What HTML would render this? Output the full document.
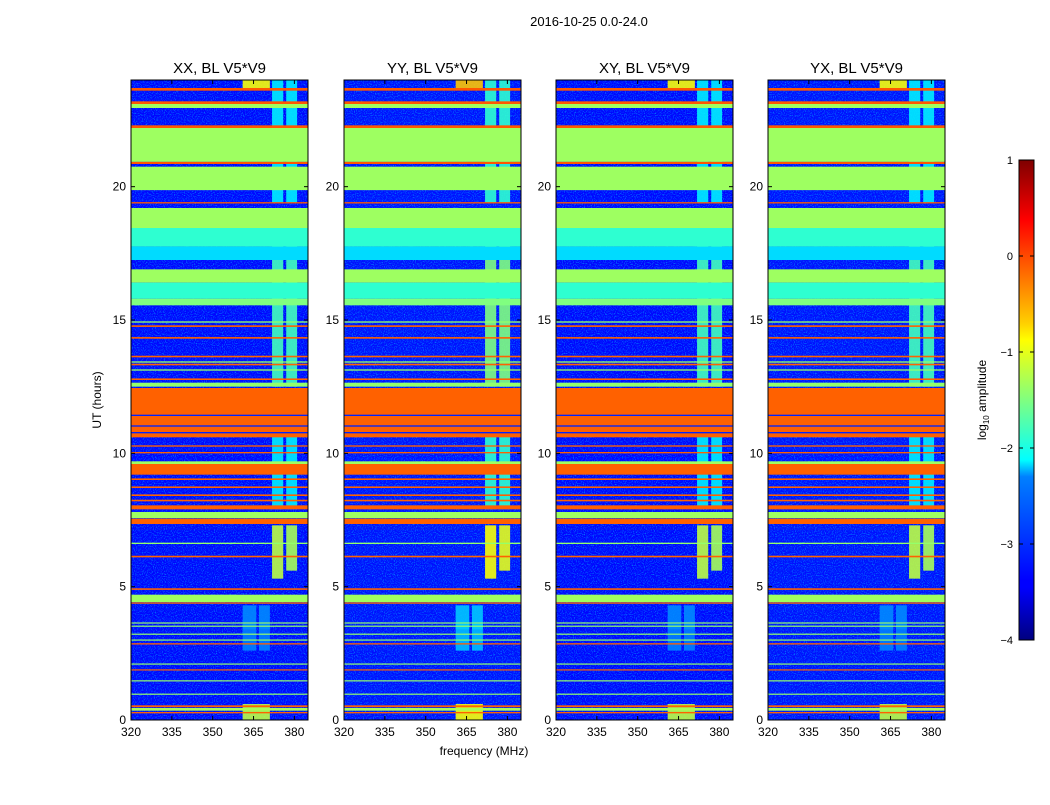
<!DOCTYPE html>
<html><head><meta charset="utf-8"><style>
body{margin:0;background:#fff;font-family:"Liberation Sans",sans-serif;}
svg text{font-family:"Liberation Sans",sans-serif;}
</style></head><body>
<svg id="fig" width="1050" height="800" viewBox="0 0 1050 800" xmlns="http://www.w3.org/2000/svg">
<defs>
<linearGradient id="cbgrad" x1="0" y1="1" x2="0" y2="0">
<stop offset="0" stop-color="#00007f"/><stop offset="0.11" stop-color="#0000ff"/><stop offset="0.125" stop-color="#0000ff"/><stop offset="0.34" stop-color="#0080ff"/><stop offset="0.375" stop-color="#00ffff"/><stop offset="0.5" stop-color="#80ff80"/><stop offset="0.625" stop-color="#ffff00"/><stop offset="0.66" stop-color="#ffd000"/><stop offset="0.875" stop-color="#ff0000"/><stop offset="1" stop-color="#7f0000"/>
</linearGradient>
<filter id="noise" x="0" y="0" width="100%" height="100%">
<feTurbulence type="fractalNoise" baseFrequency="0.9" numOctaves="1" seed="3" result="n"/>
<feColorMatrix in="n" type="matrix" values="0 0 0 0 0  0 0 0 0 0.45  0 0 0 0 1  0 0 0 2.2 -1.05"/>
</filter>
</defs>
<text x="589" y="26" font-size="13" text-anchor="middle">2016-10-25 0.0-24.0</text>
<text x="484" y="755" font-size="12" text-anchor="middle">frequency (MHz)</text>
<text x="101" y="400" font-size="12" text-anchor="middle" transform="rotate(-90 101 400)">UT (hours)</text>
<g id="panels"></g>
<g>
<rect x="1019" y="160" width="15" height="480" fill="url(#cbgrad)" stroke="#000" stroke-width="1"/>
<g id="cbticks"></g>
<text x="986" y="400" font-size="12" text-anchor="middle" transform="rotate(-90 986 400)">log<tspan font-size="8" dy="3">10</tspan><tspan dy="-3"> amplitude</tspan></text>
</g>
</svg>
<script>
// ---- data ----
const panelTitles = ["XX, BL V5*V9","YY, BL V5*V9","XY, BL V5*V9","YX, BL V5*V9"];
const xTicks = [320,335,350,365,380];
const yTicks = [0,5,10,15,20];
const cbTicks = [1,0,-1,-2,-3,-4];
const baseLevel = [-3.35,-3.3,-3.35,-3.3];
// horizontal bands (hours, log10 amplitude)
const bandStart = [23.6,23.1,22.95,22.2,20.93,20.85,19.87,19.37,18.45,17.75,17.25,16.4,15.8,15.55,14.74,14.9,14.3,13.6,13.4,13.3,13.1,12.75,12.5,12.0,10.6,11.4,11.0,10.75,10.0,10.25,9.6,9.2,9.0,8.7,8.4,8.2,7.9,7.57,7.35,6.6,6.1,4.88,4.42,4.36,3.62,3.50,3.2,2.98,2.83,2.08,1.86,1.45,0.95,0.48,0.35,0.25];
const bandEnd   = [23.7,23.2,23.1,22.3,22.2,20.93,20.75,19.42,19.2,18.45,17.75,16.9,16.4,15.8,14.8,14.95,14.36,13.66,13.45,13.36,13.15,12.81,12.65,12.45,12.0,11.45,11.05,10.8,10.05,10.3,9.7,9.6,9.06,8.76,8.46,8.26,8.05,7.8,7.55,6.65,6.16,4.94,4.7,4.41,3.66,3.54,3.24,3.02,2.88,2.12,1.9,1.49,0.99,0.55,0.45,0.3];
const bandValue = [-0.05,-0.05,-1.35,-0.05,-1.35,-0.05,-1.35,-0.05,-1.35,-1.9,-2.3,-1.35,-1.9,-1.5,-0.1,-1.4,-0.1,-0.1,-1.4,-0.1,-1.4,-0.1,-1.4,-0.1,-0.1,-3.2,-3.2,-3.2,-0.1,-0.1,-1.35,-0.1,-0.1,-0.1,-0.1,-0.1,-0.1,-1.35,-0.1,-1.4,-0.1,-0.1,-1.35,-0.1,-1.4,-1.4,-1.4,-1.4,-0.1,-1.4,-0.1,-1.4,-1.4,-0.1,-1.3,-0.1];
// vertical RFI columns: freq range, time range, value
const colF0 = [371.8,377,371.8,377,371.8,377,371.8,377,361,361,367,361,367,361];
const colF1 = [375.9,381,375.9,381,375.9,381,375.9,381,371,366,371,366,371,371];
const colT0 = [5.3,5.6,7.9,7.9,12.5,12.5,19.4,19.4,0.0,2.6,2.6,3.4,3.4,23.65];
const colT1 = [7.3,7.3,12.4,12.4,19.2,19.2,24,24,0.6,3.6,3.6,4.3,4.3,24];
const colV  = [-1.2,-1.3,-2.2,-2.2,-1.8,-1.8,-2.2,-2.2,-1.2,-2.75,-2.75,-2.7,-2.7,-0.9];
// ---- layout ----
const panelX = [131,344,556,768];
const pw = 177, py0 = 80, py1 = 720;
const fmin = 320, fmax = 385;
function jet(v){
  let t = Math.max(0,Math.min(1,(v+4)/5));
  const r = Math.max(0,Math.min(1,1.5-Math.abs(4*t-3)));
  const g = Math.max(0,Math.min(1,1.5-Math.abs(4*t-2)));
  const b = Math.max(0,Math.min(1,1.5-Math.abs(4*t-1)));
  return `rgb(${Math.round(r*255)},${Math.round(g*255)},${Math.round(b*255)})`;
}
const NS="http://www.w3.org/2000/svg";
function mk(tag,attrs,parent){const e=document.createElementNS(NS,tag);for(const k in attrs)e.setAttribute(k,attrs[k]);parent.appendChild(e);return e;}
const yS = h => py1 - (h/24)*(py1-py0);
const cbY = v => 640 - (v+4)/5*480;
const panels = document.getElementById('panels');
panelTitles.forEach((title,pi)=>{
  const x0 = panelX[pi];
  const xS = f => x0 + (f-fmin)/(fmax-fmin)*pw;
  const g = mk('g',{},panels);
  
  
  const bg = mk('rect',{x:x0,y:py0,width:pw,height:py1-py0,fill:jet(baseLevel[pi])},g);
  
  
  const nz = mk('rect',{x:x0,y:py0,width:pw,height:py1-py0,fill:'#fff',filter:'url(#noise)'},g);
  
  
  for(let i=0;i<colV.length;i++){
    const r = mk('rect',{x:xS(colF0[i]),y:yS(colT1[i]),width:xS(colF1[i])-xS(colF0[i]),height:yS(colT0[i])-yS(colT1[i]),fill:jet(colV[i]+(pi===1?0.3:0)),opacity:0.9},g);
    
    
  }
  for(let i=0;i<bandValue.length;i++){
    const r = mk('rect',{x:x0,y:yS(bandEnd[i]),width:pw,height:Math.max(1.2,yS(bandStart[i])-yS(bandEnd[i])),fill:jet(bandValue[i])},g);
    
    
  }
  const fr = mk('rect',{x:x0,y:py0,width:pw,height:py1-py0,fill:'none',stroke:'#000','stroke-width':1},g);
  
  
  const t = mk('text',{x:x0+pw/2,y:73,'font-size':15,'text-anchor':'middle'},g);
  t.textContent = title;
  
  
  xTicks.forEach(f=>{
    const x = xS(f);
    mk('line',{x1:x,x2:x,y1:py1,y2:py1-4,stroke:'#000'},g);
    mk('line',{x1:x,x2:x,y1:py0,y2:py0+4,stroke:'#000'},g);
    const l = mk('text',{x:x,y:736,'font-size':12,'text-anchor':'middle'},g);
    l.textContent = f;
    
    
  });
  yTicks.forEach(h=>{
    const y = yS(h);
    mk('line',{x1:x0,x2:x0+4,y1:y,y2:y,stroke:'#000'},g);
    mk('line',{x1:x0+pw,x2:x0+pw-4,y1:y,y2:y,stroke:'#000'},g);
    const l = mk('text',{x:x0-5,y:y+4,'font-size':12,'text-anchor':'end'},g);
    l.textContent = h;
    
    
  });
});
const cbt = document.getElementById('cbticks');
cbTicks.forEach(v=>{
  const y = cbY(v);
  mk('line',{x1:1019,x2:1023,y1:y,y2:y,stroke:'#000'},cbt);
  mk('line',{x1:1034,x2:1030,y1:y,y2:y,stroke:'#000'},cbt);
  const l = mk('text',{x:1013,y:y+4,'font-size':11,'text-anchor':'end'},cbt);
  l.textContent = v<0 ? '\u2212'+Math.abs(v) : String(v);
  
  
});
</script>
</body></html>
